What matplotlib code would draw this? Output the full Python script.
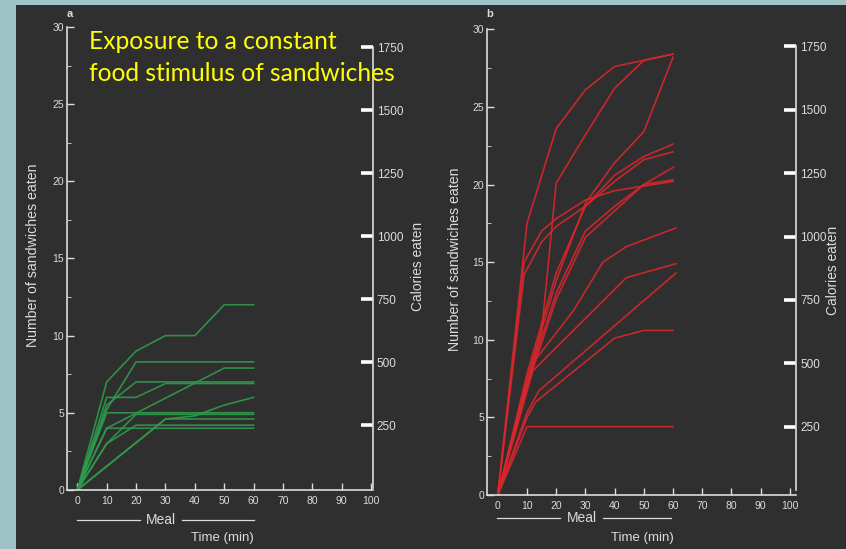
import matplotlib
matplotlib.use('Agg')
import matplotlib.pyplot as plt
from matplotlib.patches import Rectangle
from matplotlib.ticker import MultipleLocator
from matplotlib import transforms

# panel a: sandwiches eaten over a 60 min meal (constant stimulus)
a_times = [
    [0, 10, 20, 30, 40, 50, 60],
    [0, 10, 20, 60],
    [0, 10, 50, 60],
    [0, 10, 20, 30, 60],
    [0, 10, 20, 60],
    [0, 10, 60],
    [0, 10, 60],
    [0, 10, 20, 60],
    [0, 30, 60],
    [0, 30, 40, 50, 60],
    [0, 10, 20, 60],
]
a_values = [
    [0, 7, 9, 10, 10, 12, 12],
    [0, 5.2, 8.3, 8.3],
    [0, 4, 7.9, 7.9],
    [0, 6, 6, 6.9, 6.9],
    [0, 5.5, 7.0, 7.0],
    [0, 5, 5],
    [0, 4, 4],
    [0, 3, 4.2, 4.2],
    [0, 4.6, 4.6],
    [0, 4.6, 4.8, 5.5, 6.0],
    [0, 3, 4.9, 4.9],
]

# panel b: sandwiches eaten (variety)
b_times = [
    [0, 10, 20, 30, 40, 50, 60],
    [0, 15, 20, 30, 40, 50, 60],
    [0, 10, 20, 30, 40, 50, 60],
    [0, 10, 20, 30, 40, 50, 60],
    [0, 9, 15, 20, 30, 40, 50, 60],
    [0, 10, 20, 30, 40, 50, 60],
    [0, 10, 20, 30, 40, 50, 60],
    [0, 9, 15, 20, 30, 40, 50, 60],
    [0, 12, 26, 36, 44, 61],
    [0, 12, 44, 61],
    [0, 10, 14, 61],
    [0, 10, 13, 40, 50, 60],
    [0, 10, 60],
]
b_values = [
    [0, 17.5, 23.6, 26.1, 27.6, 28.0, 28.4],
    [0, 10.5, 20.1, 23.2, 26.2, 28.0, 28.4],
    [0, 7.5, 13.8, 18.8, 21.4, 23.4, 28.2],
    [0, 7.8, 14.3, 18.6, 20.6, 21.8, 22.6],
    [0, 14.2, 16.3, 17.3, 18.6, 20.2, 21.6, 22.1],
    [0, 7.2, 13.0, 17.0, 18.6, 20.0, 21.1],
    [0, 7.0, 12.6, 16.6, 18.3, 20.0, 20.3],
    [0, 15.0, 17.0, 17.8, 19.0, 19.6, 19.9, 20.2],
    [0, 8.5, 11.9, 15.0, 16.0, 17.2],
    [0, 8.0, 14.0, 14.9],
    [0, 5.3, 6.7, 14.3],
    [0, 5.0, 6.0, 10.1, 10.6, 10.6],
    [0, 4.4, 4.4],
]

x_ticks = [0, 10, 20, 30, 40, 50, 60, 70, 80, 90, 100]
y_ticks = [0, 5, 10, 15, 20, 25, 30]
cal_ticks = [250, 500, 750, 1000, 1250, 1500, 1750]
title_lines = ['Exposure to a constant', 'food stimulus of sandwiches']

BG = '#2f2f2f'
FG = '#dcdcdc'
plt.rcParams['font.family'] = ['Liberation Sans', 'DejaVu Sans']

fig = plt.figure(figsize=(8.46, 5.49), dpi=100, facecolor='#9ec3c6')
fig.patches.append(Rectangle((16 / 846, 0), 1, 544 / 549, transform=fig.transFigure,
                             facecolor=BG, edgecolor='none', zorder=-5))


def draw_panel(rect, times, values, color, xlim, cal_lim, letter, ylab_x, ylab_y,
               clab_x, clab_y, meal_y, meal_segs, meal_x, time_y):
    ax = fig.add_axes(rect)
    ax.patch.set_visible(False)
    for t, v in zip(times, values):
        ax.plot(t, v, color=color, lw=1.2, alpha=0.9, solid_joinstyle='miter')
    ax.set_xlim(*xlim)
    ax.set_ylim(0, 30)
    for s in ['top', 'right']:
        ax.spines[s].set_visible(False)
    for s in ['left', 'bottom']:
        ax.spines[s].set_color(FG)
        ax.spines[s].set_linewidth(1.2)
    ax.spines['left'].set_bounds(0, 30)
    ax.set_xticks(x_ticks)
    ax.set_yticks(y_ticks)
    ax.yaxis.set_minor_locator(MultipleLocator(2.5))
    ax.tick_params(direction='in', colors=FG, labelsize=7.5, length=5, width=1, pad=4)
    ax.tick_params(axis='y', labelsize=7.5, pad=2)
    ax.tick_params(axis='y', which='minor', direction='in', length=3, color=FG)

    ax2 = ax.twinx()
    ax2.patch.set_visible(False)
    ax2.set_ylim(*cal_lim)
    for s in ['top', 'left', 'bottom']:
        ax2.spines[s].set_visible(False)
    ax2.spines['right'].set_color(FG)
    ax2.spines['right'].set_linewidth(1.2)
    ax2.spines['right'].set_bounds(0, 1750)
    ax2.set_yticks(cal_ticks)
    ax2.tick_params(direction='in', colors='white', labelcolor=FG, labelsize=8.5,
                    length=9, width=2.6, pad=3)

    fig.text(rect[0] - 0.001, 0.966, letter, color=FG, fontsize=8, fontweight='bold',
             ha='left', va='bottom')
    fig.text(ylab_x, ylab_y, 'Number of sandwiches eaten', rotation=90, color=FG,
             fontsize=10.2, ha='center', va='center')
    fig.text(clab_x, clab_y, 'Calories eaten', rotation=90, color=FG,
             fontsize=9.9, ha='center', va='center')

    tr = transforms.blended_transform_factory(ax.transData, fig.transFigure)
    for x0, x1 in meal_segs:
        ax.plot([x0, x1], [meal_y, meal_y], color=FG, lw=0.9, transform=tr, clip_on=False)
    ax.text(meal_x, meal_y, 'Meal', transform=tr, color=FG, fontsize=10,
            ha='center', va='center')
    ax.text(49.5, time_y, 'Time (min)', transform=tr, color=FG, fontsize=9.5,
            ha='center', va='center')
    return ax


ax_a = draw_panel([0.0792, 0.1075, 0.3613, 0.8434], a_times, a_values, '#2e9a4c',
                  (-3.5, 100.5), (-6, 1830), 'a', 0.039, 0.5355, 0.494, 0.5155,
                  0.053, [(0, 21.5), (35.5, 60)], 28.4, 0.02)
ax_b = draw_panel([0.5753, 0.0984, 0.3656, 0.8483], b_times, b_values, '#d8262c',
                  (-3.8, 102.1), (-20, 1818), 'b', 0.538, 0.528, 0.9846, 0.508,
                  0.0565, [(-0.3, 21.3), (35.9, 59.2)], 28.7, 0.02)

# slide caption, one text per line
for i, line in enumerate(title_lines):
    fig.text(89 / 846, 1 - (30 + 32 * i) / 549, line, color='#ffff00', fontsize=17.7,
             family=['Lato', 'DejaVu Sans'], ha='left', va='top')

fig.savefig('out.png', dpi=100, facecolor=fig.get_facecolor())
